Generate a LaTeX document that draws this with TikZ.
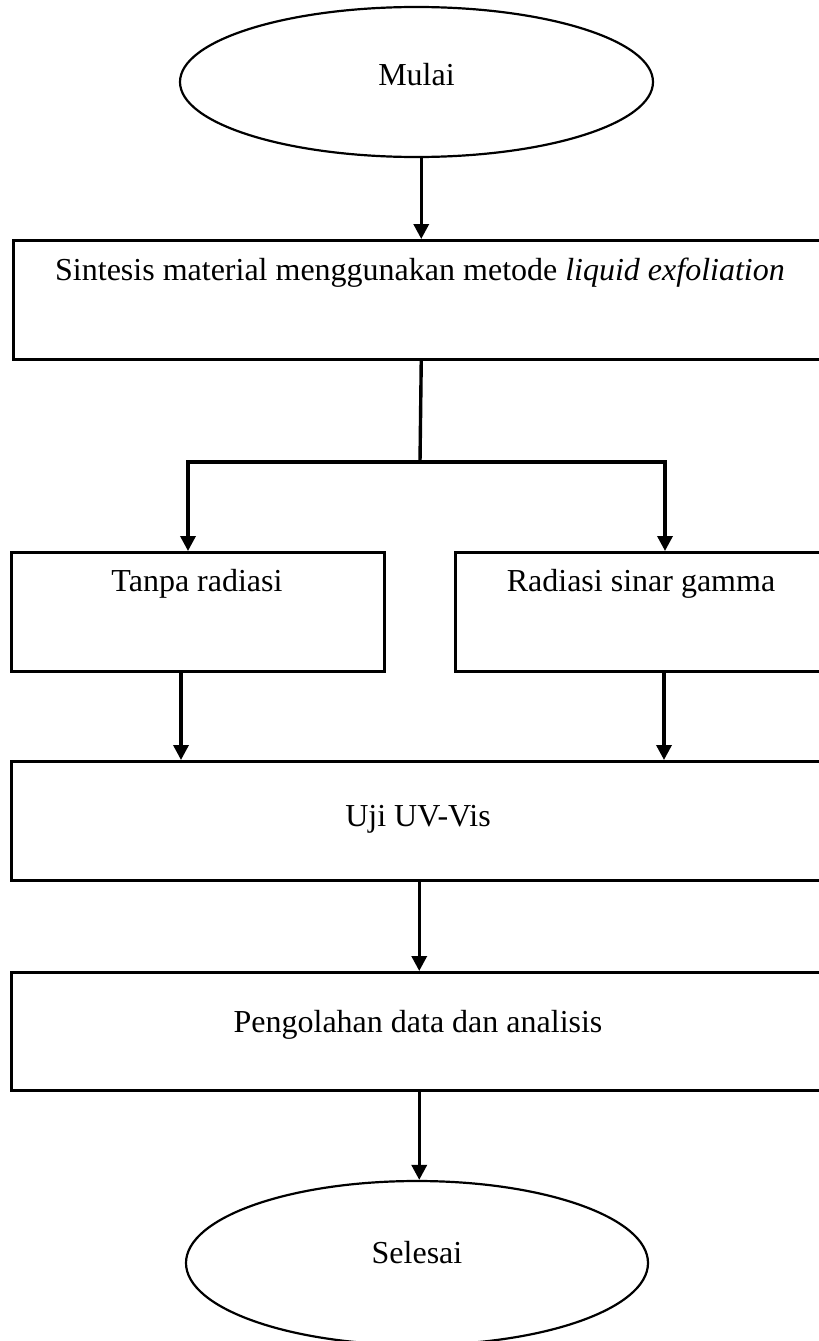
\documentclass[tikz,border=0pt]{standalone}
\usepackage{fontspec}
\setmainfont{Liberation Serif}
\usetikzlibrary{arrows.meta,shapes.geometric}
\begin{document}
\begin{tikzpicture}[x=1pt,y=-1pt,
  box/.style={draw, line width=2.5pt, inner sep=0pt, anchor=north west},
  oval/.style={ellipse, draw, line width=2.2pt, inner sep=0pt},
  lbl/.style={font=\fontsize{32}{37}\selectfont, inner sep=0pt},
  conn/.style={line width=3.4pt},
  arr/.style={line width=3.4pt, -{Triangle[length=15pt,width=15pt]}}]
\useasboundingbox (0,0) rectangle (819,1341);
\fill[white] (0,0) rectangle (819,1341);
\clip (0,0) rectangle (819,1341);

% terminators
\node[oval, minimum width=473pt, minimum height=150pt] (mulai) at (416.5,82) {};
\node[lbl] (mulaitxt) at (416.5,75) {Mulai};

\node[oval, minimum width=462pt, minimum height=164pt] (selesai) at (417,1263) {};
\node[lbl] (selesaitxt) at (417,1253) {Selesai};

% process boxes
\node[box, minimum width=816pt, minimum height=119pt] (sintesis) at (12,239) {};
\node[lbl] (sintesistxt) at (420,273) {Sintesis material menggunakan metode \textit{liquid exfoliation}};

\node[box, minimum width=373pt, minimum height=119pt] (tanpa) at (10,551) {};
\node[lbl] (tanpatxt) at (197,584) {Tanpa radiasi};

\node[box, minimum width=372pt, minimum height=119pt] (radiasi) at (454,551) {};
\node[lbl] (radiasitxt) at (641,584) {Radiasi sinar gamma};

\node[box, minimum width=816pt, minimum height=119pt] (uji) at (10,760) {};
\node[lbl] (ujitxt) at (418,819) {Uji UV-Vis};

\node[box, minimum width=816pt, minimum height=118pt] (olah) at (10,971) {};
\node[lbl] (olahtxt) at (418,1025) {Pengolahan data dan analisis};

% helper coordinates
\coordinate (br) at (420,462);
\coordinate (brL) at (188,462);
\coordinate (brR) at (665,462);
\coordinate (cL) at (181,700);
\coordinate (cR) at (664,700);

% connectors
\draw[arr] (mulai.south -| sintesis.north) -- (sintesis.north);
\draw[conn] (sintesis.south) -- (br);
\draw[arr] (brR) -- (brL) -- (brL |- tanpa.north);
\draw[arr] (brL) -- (brR) -- (brR |- radiasi.north);
\draw[arr] (tanpa.south -| cL) -- (cL |- uji.north);
\draw[arr] (radiasi.south -| cR) -- (cR |- uji.north);
\draw[arr] (uji.south) -- (olah.north);
\draw[arr] (olah.south) -- (olah.south |- selesai.north);
\end{tikzpicture}
\end{document}
